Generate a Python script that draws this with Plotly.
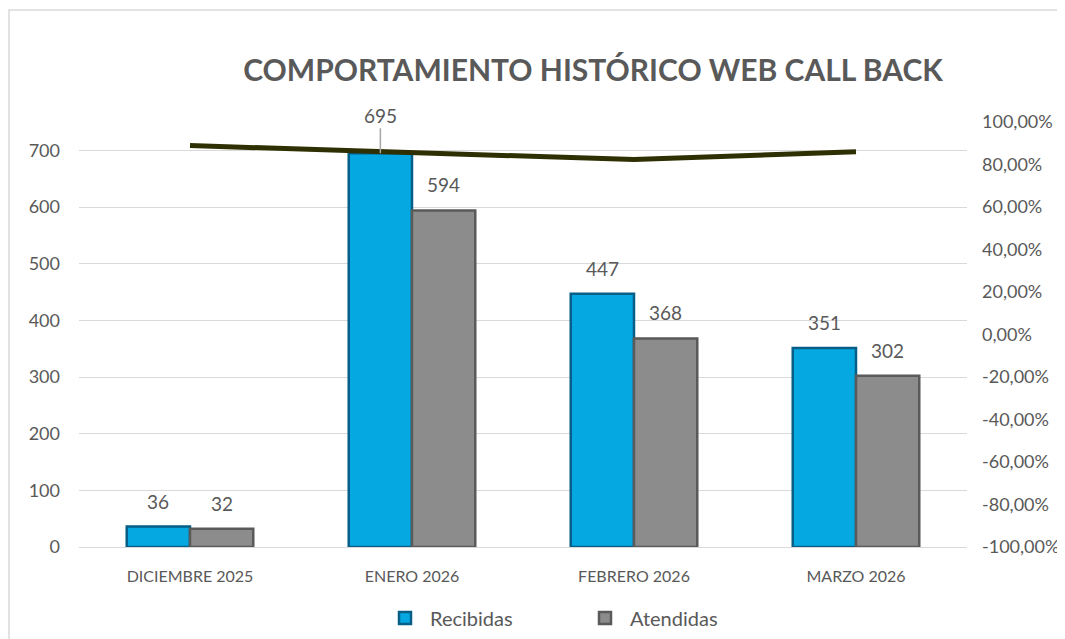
import plotly.graph_objects as go

meses = ["DICIEMBRE 2025", "ENERO 2026", "FEBRERO 2026", "MARZO 2026"]
recibidas = [36, 695, 447, 351]
atendidas = [32, 594, 368, 302]
porcentaje = [0.8889, 0.8547, 0.8233, 0.8604]
ticks_pct = [-1.0, -0.8, -0.6, -0.4, -0.2, 0.0, 0.2, 0.4, 0.6, 0.8, 1.0]

# the page puts the figure 8px in from the window corner, so work in page coords minus 8
OFF = 8
W, H = 1065 - OFF, 639 - OFF
L, T = 79 - OFF, 122 - OFF
R, B = W - (967 - OFF), H - (547 - OFF)
pw, ph = W - L - R, H - T - B

gris = "#595959"
fuente = "Lato"
bargap = 0.43
# half a bar width in px, used to put the value labels over each bar of the group
medio = (1 - bargap) / 2 * pw / len(meses) / 2

fig = go.Figure()
fig.add_trace(go.Bar(
    x=meses, y=recibidas, name="Recibidas",
    marker=dict(color="#06A8E1", line=dict(color="#075E86", width=2.5)),
))
fig.add_trace(go.Bar(
    x=meses, y=atendidas, name="Atendidas",
    marker=dict(color="#8C8C8C", line=dict(color="#5A5A5A", width=2.5)),
))
fig.add_trace(go.Scatter(
    x=meses, y=porcentaje, yaxis="y2", mode="lines", showlegend=False,
    line=dict(color="#2F2F04", width=5),
))

etiqueta = dict(color=gris, size=19, family=fuente)
for m, r, a in zip(meses, recibidas, atendidas):
    if r == max(recibidas):
        # label moved above the line with a leader line, as in the original
        fig.add_annotation(x=m, y=r, xshift=-medio, text=str(r), showarrow=True,
                           arrowhead=0, arrowcolor="#A6A6A6", arrowwidth=1.5,
                           ax=0, ay=-38, font=etiqueta)
    else:
        fig.add_annotation(x=m, y=r, xshift=-medio, yshift=12, yanchor="bottom",
                           text=str(r), showarrow=False, font=etiqueta)
    fig.add_annotation(x=m, y=a, xshift=medio, yshift=12, yanchor="bottom",
                       text=str(a), showarrow=False, font=etiqueta)

fig.update_layout(
    width=W, height=H,
    margin=dict(l=L, r=R, t=T, b=B),
    paper_bgcolor="white", plot_bgcolor="white",
    font=dict(family=fuente, color=gris),
    title=dict(text="<b>COMPORTAMIENTO HISTÓRICO WEB CALL BACK</b>",
               x=(593 - OFF - L) / pw, xref="paper", y=1 - (70 - OFF) / H,
               yanchor="middle", font=dict(size=30, color=gris, family=fuente)),
    barmode="group", bargap=bargap, bargroupgap=0,
    xaxis=dict(showgrid=False, showline=True, linecolor="#D9D9D9", automargin=False,
               tickfont=dict(size=16, color=gris), ticks="", ticklabelstandoff=15),
    yaxis=dict(range=[0, 750], dtick=100, showgrid=True, gridcolor="#D9D9D9",
               automargin=False, zeroline=False, ticks="", ticklabelstandoff=18,
               tickfont=dict(size=18, color=gris)),
    yaxis2=dict(overlaying="y", side="right", range=[-1, 1],
                tickvals=ticks_pct,
                ticktext=[f"{v * 100:.2f}%".replace(".", ",") for v in ticks_pct],
                showgrid=False, zeroline=False, automargin=False,
                ticks="", ticklabelstandoff=14, tickfont=dict(size=18, color=gris)),
    legend=dict(orientation="h", xref="container", yref="container",
                x=(580 - OFF) / W, xanchor="center", y=1 - (618 - OFF) / H,
                yanchor="middle", font=dict(size=20, color=gris), traceorder="normal",
                entrywidth=145, itemwidth=40),
    shapes=[dict(type="rect", xref="paper", yref="paper",
                 x0=(9 - OFF - L) / pw, x1=(1100 - L) / pw,
                 y0=-0.5, y1=1 + (T - (10 - OFF)) / ph,
                 line=dict(color="#D9D9D9", width=1.5), layer="below")],
)

fig.write_html("out.html")
